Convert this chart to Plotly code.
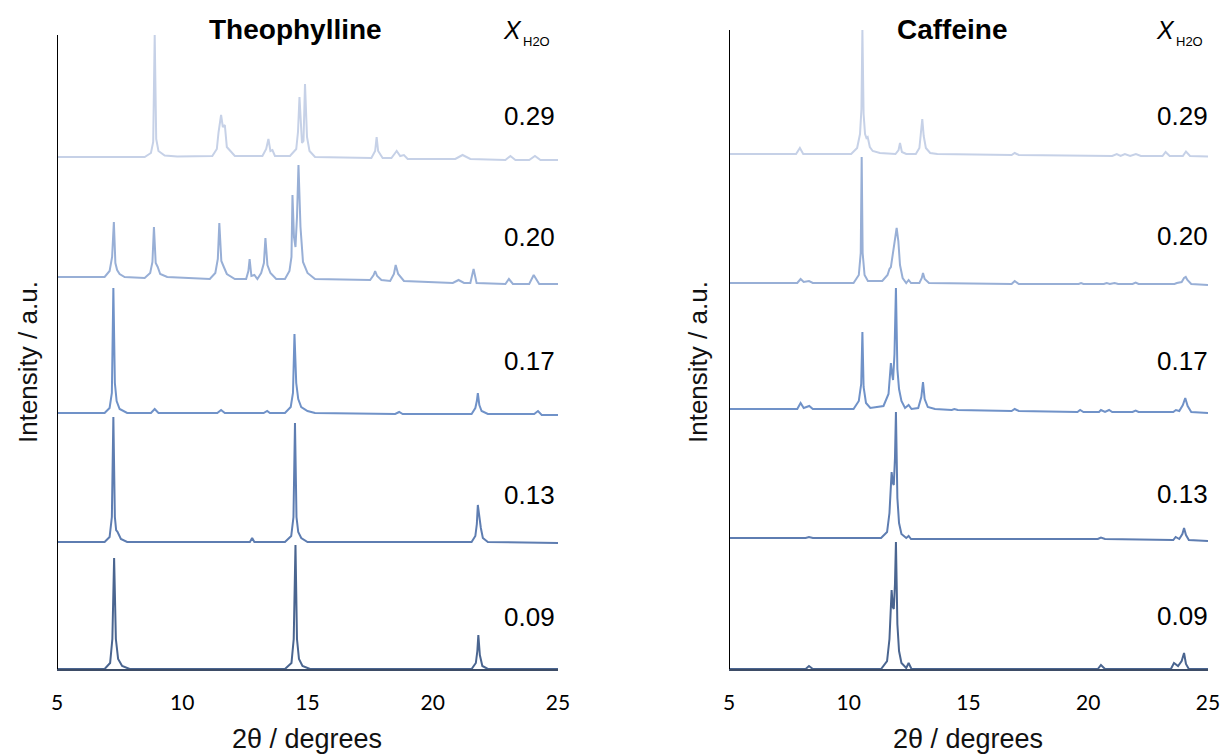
import plotly.graph_objects as go

# ---------------- data (2θ in degrees, intensity in a.u. above each trace's baseline) ----------------
X_TICKS = [5, 10, 15, 20, 25]
FRACTIONS = ["0.29", "0.20", "0.17", "0.13", "0.09"]
THEO_OFFSETS = [512, 392, 256, 127, 0]
CAFF_OFFSETS = [515, 386, 260, 131, 0]

THEO_029_X = [5, 8.5, 8.75, 8.84, 8.9, 8.96, 9.05, 9.3, 9.8, 11.2, 11.38, 11.45, 11.55, 11.62, 11.7, 11.78,
              11.85, 12.1, 13.2, 13.35, 13.44, 13.52, 13.6, 13.7, 14.3, 14.55, 14.62, 14.68, 14.78, 14.84,
              14.9, 14.98, 15.08, 15.3, 17.55, 17.7, 17.76, 17.82, 18.0, 18.35, 18.5, 18.56, 18.7, 18.85,
              19.0, 20.9, 21.19, 21.5, 22.9, 23.1, 23.3, 23.85, 24.08, 24.3, 25]
THEO_029_Y = [0, 0, 4, 15, 122, 18, 6, 1.5, 0.5, 1, 8, 25, 42, 30, 32, 10,
              8, 1, 1, 8, 18, 6, 7, 1, 1, 8, 25, 60, 14, 16,
              73, 20, 6, 0, -1, 6, 20, 6, -1, -1, 4, 6, 1, 2,
              -2, -2, 2, -2, -3, 1, -3, -3, 1, -3, -3]

THEO_020_X = [5, 6.9, 7.1, 7.2, 7.27, 7.33, 7.4, 7.5, 7.7, 8.5, 8.72, 8.81, 8.87, 8.94, 9.02, 9.12, 9.4,
              11.1, 11.32, 11.42, 11.48, 11.56, 11.66, 11.78, 12.1, 12.55, 12.64, 12.69, 12.76, 12.88,
              13.0, 13.15, 13.26, 13.32, 13.4, 13.52, 13.75, 14.1, 14.28, 14.36, 14.4, 14.46, 14.52, 14.58,
              14.64, 14.72, 14.82, 15.0, 15.3, 17.5, 17.64, 17.7, 17.78, 17.95, 18.3, 18.45, 18.52, 18.62,
              18.85, 20.8, 21.03, 21.25, 21.5, 21.63, 21.75, 22.9, 23.04, 23.2, 23.85, 24.03, 24.25, 25]
THEO_020_Y = [0, 0, 6, 20, 55, 14, 7, 3, 0, -1, 4, 15, 50, 14, 10, 3, 0,
              -2, 4, 18, 54, 16, 10, 3, -2, -2, 6, 18, 1, 2,
              -2, 4, 14, 39, 12, 4, -2, -2, 6, 20, 82, 40, 30, 60,
              112, 50, 15, 4, -2, -3, 2, 6, 1, -3, -4, 3, 12, 3,
              -4, -6, -3, -6, -6, 8, -6, -7, -2, -7, -7, 2, -7, -7]

THEO_017_X = [5, 6.9, 7.1, 7.19, 7.25, 7.31, 7.38, 7.5, 7.8, 8.75, 8.9, 9.05, 11.4, 11.55, 11.7, 13.25,
              13.39, 13.5, 14.1, 14.33, 14.42, 14.48, 14.55, 14.63, 14.75, 15.0, 15.3, 18.5, 18.66, 18.8,
              21.55, 21.7, 21.76, 21.8, 21.86, 21.95, 22.2, 24.05, 24.2, 24.35, 25]
THEO_017_Y = [0, 0, 5, 20, 125, 30, 12, 4, 0, 0, 4, 0, 0, 3, 0, 0,
              2, 0, 0, 6, 20, 79, 30, 14, 6, 2, 0, -1, 1, -1,
              -1, 5, 12, 20, 8, 2, -1, -1, 2, -2, -2]

THEO_013_X = [5, 6.9, 7.1, 7.19, 7.25, 7.31, 7.36, 7.42, 7.55, 7.8, 12.7, 12.79, 12.88, 14.1, 14.35, 14.44,
              14.5, 14.56, 14.63, 14.75, 15.0, 21.55, 21.7, 21.76, 21.8, 21.86, 21.92, 22.0, 22.2, 25]
THEO_013_Y = [0, 0, 5, 25, 125, 25, 12, 10, 3, 0, 0, 4, 0, 0, 6, 25,
              119, 25, 10, 4, 0, 0, 6, 18, 37, 22, 14, 4, 0, -1]

THEO_009_X = [5, 6.9, 7.12, 7.21, 7.28, 7.35, 7.44, 7.6, 7.9, 14.1, 14.36, 14.45, 14.52, 14.58, 14.66,
              14.8, 15.1, 21.55, 21.72, 21.78, 21.82, 21.88, 21.98, 22.2, 25]
THEO_009_Y = [0, 0, 6, 30, 111, 30, 10, 3, 0, 0, 6, 30, 124, 30, 10,
              3, 0, 0, 6, 18, 34, 14, 3, 0, 0]

CAFF_029_X = [5, 7.8, 7.96, 8.1, 10.1, 10.35, 10.47, 10.53, 10.57, 10.62, 10.68, 10.74, 10.79, 10.88, 11.0,
              11.3, 11.95, 12.08, 12.14, 12.22, 12.4, 12.8, 12.95, 13.02, 13.07, 13.13, 13.22, 13.4, 13.7,
              16.8, 16.93, 17.1, 21.0, 21.19, 21.35, 21.53, 21.75, 21.99, 22.2, 23.1, 23.23, 23.4, 23.95,
              24.08, 24.25, 25]
CAFF_029_Y = [0, 0, 6, 0, 0, 6, 20, 45, 124, 40, 20, 16, 17, 7, 3,
              1, 0, 4, 11, 2, 0, 0, 6, 20, 35, 18, 6, 1, 0,
              -1, 1, -1, -2, 0, -2, 0, -2, 0, -2, -2, 2, -2, -2,
              2.5, -2, -2.5]

CAFF_020_X = [5, 7.85, 7.99, 8.12, 8.34, 8.5, 10.2, 10.42, 10.5, 10.54, 10.58, 10.66, 10.8, 11.4, 11.62,
              11.7, 11.76, 11.85, 11.93, 12.0, 12.07, 12.14, 12.25, 12.4, 12.5, 12.6, 12.95, 13.05, 13.1,
              13.17, 13.35, 16.8, 16.93, 17.1, 19.6, 19.7, 19.8, 20.65, 20.77, 20.9, 21.1, 21.25, 21.85,
              21.98, 22.1, 23.6, 23.7, 23.9, 24.0, 24.07, 24.14, 24.3, 25]
CAFF_020_Y = [0, 0, 4, 1, 2, 0, 0, 8, 30, 126, 30, 8, 2, 2, 8,
              14, 16, 30, 45, 55, 42, 18, 5, 0, 3, 0, 0, 5, 10,
              4, 0, -1, 2, -1, -1, 0, -1, -1, 0, -1, 0, -1, -1,
              0.5, -1, -1, 0, 1, 5, 6, 3, -1, -2]

CAFF_017_X = [5, 7.85, 7.99, 8.12, 8.35, 8.5, 10.2, 10.42, 10.52, 10.57, 10.62, 10.72, 10.9, 11.45, 11.66,
              11.73, 11.76, 11.81, 11.85, 11.91, 11.97, 12.03, 12.1, 12.2, 12.35, 12.5, 12.62, 12.9, 13.03,
              13.1, 13.17, 13.3, 13.6, 14.3, 14.41, 14.55, 16.8, 16.93, 17.1, 19.55, 19.66, 19.8, 20.45,
              20.53, 20.7, 20.87, 21.0, 21.85, 21.98, 22.1, 23.55, 23.66, 23.8, 23.95, 24.05, 24.15, 24.3, 25]
CAFF_017_Y = [0, 0, 6, 1, 3, 0, 0, 8, 25, 77, 22, 6, 1, 3, 15,
              35, 46, 35, 29, 55, 121, 40, 20, 8, 1, 4, 0, 1, 12,
              27, 10, 2, 0, -1, 0, -1, -2, 0, -2, -3, -1, -3, -3,
              -1, -3, -1, -3, -3, -1.5, -3, -3, -1, -2, 4, 11, 3, -3, -4]

CAFF_013_X = [5, 8.2, 8.34, 8.5, 11.35, 11.6, 11.7, 11.79, 11.84, 11.88, 11.93, 11.97, 12.03, 12.1, 12.2,
              12.4, 12.5, 12.6, 20.4, 20.53, 20.7, 23.55, 23.65, 23.8, 23.93, 24.0, 24.08, 24.2, 25]
CAFF_013_Y = [0, 0, 1, 0, 0, 6, 25, 66, 55, 53, 80, 126, 40, 15, 4,
              0, 2, -1, -1, 0.5, -1, -2, 1, -1, 4, 10, 3, -2, -3]

CAFF_009_X = [5, 8.2, 8.34, 8.5, 11.35, 11.6, 11.7, 11.79, 11.84, 11.88, 11.93, 11.97, 12.03, 12.1, 12.2,
              12.4, 12.5, 12.62, 20.4, 20.53, 20.7, 23.45, 23.58, 23.75, 23.9, 24.0, 24.08, 24.2, 25]
CAFF_009_Y = [0, 0, 3, 0, 0, 8, 30, 79, 62, 60, 85, 127, 45, 18, 6,
              1, 6, 0, 0, 4, 0, 0, 6, 3, 8, 16, 5, 0, 0]

THEO_X = [THEO_029_X, THEO_020_X, THEO_017_X, THEO_013_X, THEO_009_X]
THEO_Y = [THEO_029_Y, THEO_020_Y, THEO_017_Y, THEO_013_Y, THEO_009_Y]
CAFF_X = [CAFF_029_X, CAFF_020_X, CAFF_017_X, CAFF_013_X, CAFF_009_X]
CAFF_Y = [CAFF_029_Y, CAFF_020_Y, CAFF_017_Y, CAFF_013_Y, CAFF_009_Y]

# ---------------- styling ----------------
COLORS = ["#c6d1e7", "#98afd6", "#7092c8", "#5e7db1", "#4a6590"]
W, H = 1220, 754
TXT = "#111111"


def px(x, y):
    return x / W, 1 - y / H


fig = go.Figure()
for xs, ys, off, col in zip(THEO_X, THEO_Y, THEO_OFFSETS, COLORS):
    fig.add_trace(go.Scatter(x=xs, y=[off + v for v in ys], mode="lines",
                             line=dict(color=col, width=2), xaxis="x", yaxis="y",
                             showlegend=False, hoverinfo="skip"))
for xs, ys, off, col in zip(CAFF_X, CAFF_Y, CAFF_OFFSETS, COLORS):
    fig.add_trace(go.Scatter(x=xs, y=[off + v for v in ys], mode="lines",
                             line=dict(color=col, width=2), xaxis="x2", yaxis="y2",
                             showlegend=False, hoverinfo="skip"))

ydom = [(H - 669) / H, (H - 24) / H]
xcommon = dict(range=[5, 25], tickvals=X_TICKS, ticktext=[str(t) for t in X_TICKS],
               showgrid=False, zeroline=False, showline=True, linecolor="#3d4c66", linewidth=2,
               ticks="", ticklabelstandoff=14, automargin=False, ticklabeloverflow="allow",
               tickfont=dict(family="Lato", size=21, color="black"))
ycommon = dict(range=[0, 645], showgrid=False, zeroline=False, showline=False, showticklabels=False,
               ticks="", domain=ydom, automargin=False)

fig.update_layout(
    width=W, height=H, autosize=False,
    margin=dict(l=0, r=0, t=0, b=0, autoexpand=False),
    paper_bgcolor="white", plot_bgcolor="white",
    xaxis=dict(domain=[57 / W, 558 / W], anchor="y", **xcommon),
    xaxis2=dict(domain=[729 / W, 1208 / W], anchor="y2", **xcommon),
    yaxis=dict(anchor="x", **ycommon),
    yaxis2=dict(anchor="x2", **ycommon),
)

# y axis lines (black)
fig.add_shape(type="line", xref="x", yref="y", x0=5, x1=5, y0=0, y1=634, line=dict(color="black", width=2))
fig.add_shape(type="line", xref="x2", yref="y2", x0=5, x1=5, y0=0, y1=639, line=dict(color="black", width=2))

# axis titles
for cx in (307, 968):
    x, y = px(cx, 739)
    fig.add_annotation(text="2θ / degrees", x=x, y=y, xref="paper", yref="paper", showarrow=False,
                       xanchor="center", yanchor="middle",
                       font=dict(family="Liberation Sans", size=27, color=TXT))
for cx in (28, 698):
    x, y = px(cx, 362)
    fig.add_annotation(text="Intensity / a.u.", x=x, y=y, xref="paper", yref="paper", showarrow=False,
                       xanchor="center", yanchor="middle", textangle=-90,
                       font=dict(family="Liberation Sans", size=26, color=TXT))

# panel titles
for txt, cx in [("<b>Theophylline</b>", 295), ("<b>Caffeine</b>", 952)]:
    x, y = px(cx, 30)
    fig.add_annotation(text=txt, x=x, y=y, xref="paper", yref="paper", showarrow=False,
                       xanchor="center", yanchor="middle",
                       font=dict(family="Liberation Sans", size=28, color="black"))

# X_H2O headers
for xx, xs in [(512, 521), (1165, 1174)]:
    x, y = px(xx, 30)
    fig.add_annotation(text="<i>X</i>", x=x, y=y, xref="paper", yref="paper", showarrow=False,
                       xanchor="center", yanchor="middle",
                       font=dict(family="Liberation Sans", size=25, color="black"))
    x, y = px(xs, 41)
    fig.add_annotation(text="H2O", x=x, y=y, xref="paper", yref="paper", showarrow=False,
                       xanchor="left", yanchor="middle",
                       font=dict(family="Liberation Sans", size=13, color="black"))

# fraction labels
LABEL_Y_LEFT = [116, 237, 361, 495, 617]
LABEL_Y_RIGHT = [116, 236, 361, 494, 616]
for lab, yl, yr in zip(FRACTIONS, LABEL_Y_LEFT, LABEL_Y_RIGHT):
    for xr, yy in [(557, yl), (1210, yr)]:
        x, y = px(xr, yy)
        fig.add_annotation(text=lab, x=x, y=y, xref="paper", yref="paper", showarrow=False,
                           xanchor="right", yanchor="middle",
                           font=dict(family="Liberation Sans", size=26, color="black"))

fig.write_html("out.html")
